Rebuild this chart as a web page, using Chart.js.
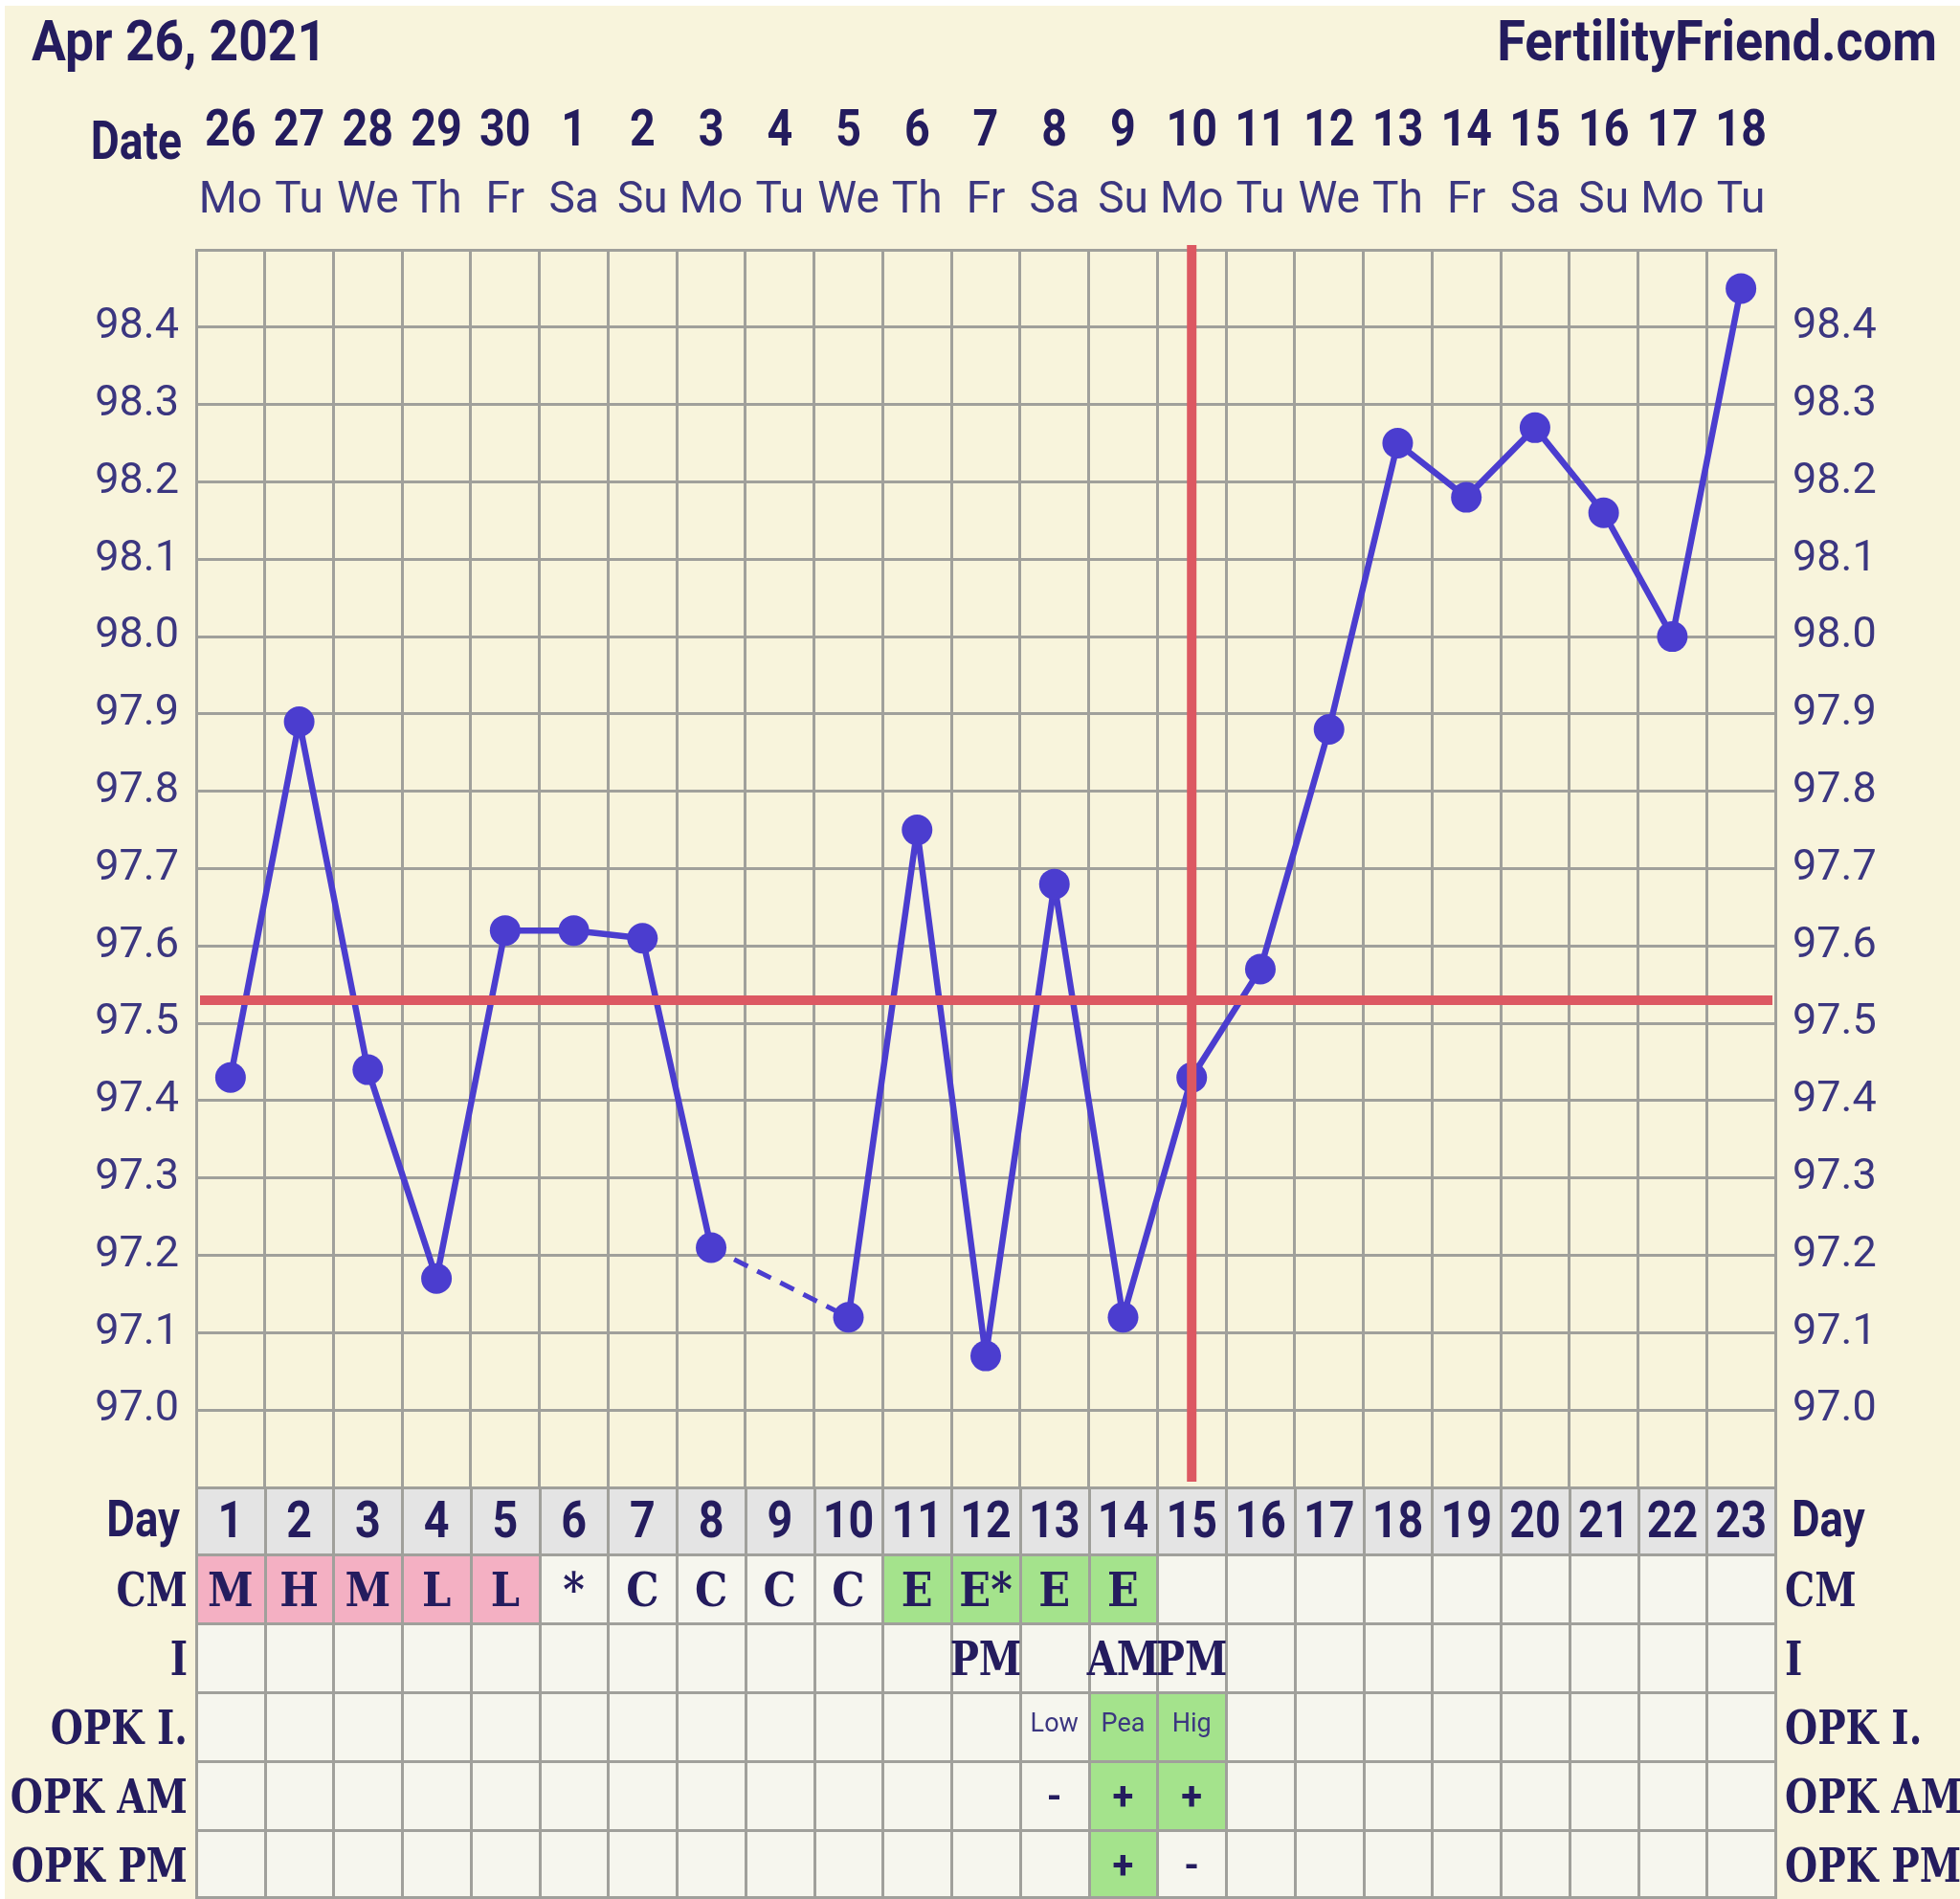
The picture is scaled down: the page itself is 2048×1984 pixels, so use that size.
<!DOCTYPE html>
<html>
<head>
<meta charset="utf-8">
<script src="https://cdn.jsdelivr.net/npm/chart.js@4.4.1/dist/chart.umd.min.js"></script>
<style>
html,body{margin:0;padding:0;background:#ffffff;overflow:hidden}
canvas{display:block}
</style>
</head>
<body>
<canvas id="chart" width="2048" height="1984" style="width:2048px;height:1984px"></canvas>
<script>
// ---------------- data ----------------
const titleText = 'Apr 26, 2021';
const siteText = 'FertilityFriend.com';
const cycleDays = ['1','2','3','4','5','6','7','8','9','10','11','12','13','14','15','16','17','18','19','20','21','22','23'];
const dateLabels = ['26','27','28','29','30','1','2','3','4','5','6','7','8','9','10','11','12','13','14','15','16','17','18'];
const weekdayLabels = ['Mo','Tu','We','Th','Fr','Sa','Su','Mo','Tu','We','Th','Fr','Sa','Su','Mo','Tu','We','Th','Fr','Sa','Su','Mo','Tu'];
const temperatures = [97.43, 97.89, 97.44, 97.17, 97.62, 97.62, 97.61, 97.21, null, 97.12, 97.75, 97.07, 97.68, 97.12, 97.43, 97.57, 97.88, 98.25, 98.18, 98.27, 98.16, 98.00, 98.45];
const coverline = 97.53;
const ovulationDay = '15';
const yMin = 96.9;
const yMax = 98.5;
const yStep = 0.1;
const rowLabels = ['Day', 'CM', 'I', 'OPK I.', 'OPK AM', 'OPK PM'];
const cmRow = ['M','H','M','L','L','*','C','C','C','C','E','E*','E','E','','','','','','','','',''];
const intercourseRow = ['','','','','','','','','','','','PM','','AM','PM','','','','','','','',''];
const opkIntensityRow = ['','','','','','','','','','','','','Low','Pea','Hig','','','','','','','',''];
const opkAmRow = ['','','','','','','','','','','','','-','+','+','','','','','','','',''];
const opkPmRow = ['','','','','','','','','','','','','','+','-','','','','','','','',''];

// ---------------- styles ----------------
const CREAM = '#f8f4dc';
const CELL = '#f6f6ee';
const DAYCELL = '#e4e4e4';
const PINK = '#f4b0c3';
const GREEN = '#a4e38c';
const GRID = '#a0a09b';
const BLUE = '#4b3dcf';
const RED = '#dc5862';
const DARK = '#241c5e';
const MID = '#3b3680';
const SERIF = '"DejaVu Serif", "Liberation Serif", serif';
const SANS = 'Roboto, "Noto Sans", sans-serif';

function txt(ctx, s, x, y, font, color, align, sx) {
  if (!s) return;
  ctx.save();
  ctx.font = font;
  ctx.fillStyle = color;
  ctx.textAlign = align;
  ctx.textBaseline = 'alphabetic';
  ctx.translate(x, y);
  ctx.scale(sx, 1);
  ctx.fillText(s, 0, 0);
  ctx.restore();
}

const backgroundPlugin = {
  id: 'bg',
  beforeDraw(chart) {
    const ctx = chart.ctx;
    ctx.save();
    ctx.fillStyle = '#ffffff';
    ctx.fillRect(0, 0, chart.width, chart.height);
    ctx.fillStyle = CREAM;
    ctx.fillRect(5, 6, chart.width - 5, chart.height - 6);
    ctx.restore();
  }
};

const markerLinesPlugin = {
  id: 'markers',
  afterDatasetsDraw(chart) {
    const ctx = chart.ctx, a = chart.chartArea;
    const x = chart.scales.x.getPixelForValue(cycleDays.indexOf(ovulationDay));
    const y = chart.scales.y.getPixelForValue(coverline);
    ctx.save();
    ctx.strokeStyle = RED;
    ctx.lineWidth = 10;
    ctx.beginPath();
    ctx.moveTo(x, a.top - 5);
    ctx.lineTo(x, a.bottom - 6);
    ctx.stroke();
    ctx.beginPath();
    ctx.moveTo(a.left + 4, y);
    ctx.lineTo(a.right - 3, y);
    ctx.stroke();
    ctx.restore();
  }
};

const tablePlugin = {
  id: 'table',
  afterDraw(chart) {
    const ctx = chart.ctx, a = chart.chartArea, xs = chart.scales.x;
    const n = cycleDays.length;
    const colW = (a.right - a.left) / n;
    const t0 = a.bottom;
    const rowsY = [t0, t0 + 70, t0 + 142, t0 + 214, t0 + 286, t0 + 358, t0 + 430];
    const cmColor = {M: PINK, H: PINK, L: PINK, E: GREEN, 'E*': GREEN};

    // header
    txt(ctx, titleText, 33, 63, 'bold 60px ' + SANS, DARK, 'left', 0.89);
    txt(ctx, siteText, 2024, 63, 'bold 60px ' + SANS, DARK, 'right', 0.9);
    txt(ctx, 'Date', 190, 166, 'bold 55px ' + SANS, DARK, 'right', 0.84);
    for (let i = 0; i < n; i++) {
      const cx = xs.getPixelForValue(i);
      txt(ctx, dateLabels[i], cx, 152, 'bold 53px ' + SANS, DARK, 'center', 0.88);
      txt(ctx, weekdayLabels[i], cx, 222, '46px ' + SANS, MID, 'center', 1.0);
    }

    // cells
    ctx.save();
    for (let i = 0; i < n; i++) {
      const x0 = a.left + i * colW;
      const fills = [
        DAYCELL,
        cmColor[cmRow[i]] || CELL,
        CELL,
        (opkIntensityRow[i] === 'Pea' || opkIntensityRow[i] === 'Hig') ? GREEN : CELL,
        opkAmRow[i] === '+' ? GREEN : CELL,
        opkPmRow[i] === '+' ? GREEN : CELL
      ];
      for (let r = 0; r < 6; r++) {
        ctx.fillStyle = fills[r];
        ctx.fillRect(x0, rowsY[r], colW + 0.5, rowsY[r + 1] - rowsY[r]);
      }
    }
    // grid of the table
    ctx.strokeStyle = GRID;
    ctx.lineWidth = 3;
    ctx.beginPath();
    for (let i = 0; i <= n; i++) {
      const x0 = Math.round(a.left + i * colW) + 0.5;
      ctx.moveTo(x0, t0);
      ctx.lineTo(x0, chart.height);
    }
    for (let r = 0; r < rowsY.length; r++) {
      const y0 = Math.min(Math.round(rowsY[r]) + 0.5, chart.height - 1.5);
      ctx.moveTo(a.left, y0);
      ctx.lineTo(a.right, y0);
    }
    ctx.stroke();
    ctx.restore();

    // cell text
    for (let i = 0; i < n; i++) {
      const cx = xs.getPixelForValue(i);
      txt(ctx, cycleDays[i], cx, rowsY[0] + 52, 'bold 53px ' + SANS, DARK, 'center', 0.88);
      txt(ctx, cmRow[i], cx, rowsY[1] + 54, 'bold 49px ' + SERIF, DARK, 'center', 0.88);
      txt(ctx, intercourseRow[i], cx, rowsY[2] + 54, 'bold 49px ' + SERIF, DARK, 'center', 0.82);
      txt(ctx, opkIntensityRow[i], cx, rowsY[3] + 41, '27px ' + SANS, MID, 'center', 1.0);
      txt(ctx, opkAmRow[i], cx, rowsY[4] + 50, 'bold 40px ' + SANS, DARK, 'center', 1.0);
      txt(ctx, opkPmRow[i], cx, rowsY[5] + 50, 'bold 40px ' + SANS, DARK, 'center', 1.0);
    }

    // row labels, both sides
    for (let r = 0; r < rowLabels.length; r++) {
      if (r === 0) {
        txt(ctx, rowLabels[r], 188, rowsY[0] + 51, 'bold 53px ' + SANS, DARK, 'right', 0.86);
        txt(ctx, rowLabels[r], a.right + 17, rowsY[0] + 51, 'bold 53px ' + SANS, DARK, 'left', 0.86);
      } else {
        txt(ctx, rowLabels[r], 196, rowsY[r] + 54, 'bold 49px ' + SERIF, DARK, 'right', 0.8);
        txt(ctx, rowLabels[r], a.right + 10, rowsY[r] + 54, 'bold 49px ' + SERIF, DARK, 'left', 0.8);
      }
    }
  }
};

const tickLabel = (v) => (v < yMin + yStep / 2 || v > yMax - yStep / 2) ? '' : Number(v).toFixed(1);
const gapStyle = (c, value) => (c.p0.skip || c.p1.skip) ? value : undefined;

new Chart(document.getElementById('chart'), {
  type: 'line',
  data: {
    labels: cycleDays,
    datasets: [{
      data: temperatures,
      borderColor: BLUE,
      backgroundColor: BLUE,
      pointBackgroundColor: BLUE,
      pointBorderColor: BLUE,
      borderWidth: 6.5,
      borderJoinStyle: 'round',
      borderCapStyle: 'round',
      pointRadius: 16,
      pointHoverRadius: 16,
      pointBorderWidth: 0,
      tension: 0,
      spanGaps: true,
      segment: {
        borderDash: (c) => gapStyle(c, [16, 11]),
        borderWidth: (c) => gapStyle(c, 5),
        borderCapStyle: (c) => gapStyle(c, 'butt')
      }
    }]
  },
  options: {
    responsive: false,
    devicePixelRatio: 1,
    animation: false,
    events: [],
    layout: { padding: { top: 261, bottom: 430, left: 0, right: 0 } },
    plugins: { legend: { display: false }, tooltip: { enabled: false }, title: { display: false } },
    scales: {
      x: {
        type: 'category',
        offset: true,
        ticks: { display: false },
        grid: { color: GRID, lineWidth: 3, offset: true, drawTicks: false },
        border: { display: true, color: GRID, width: 3 },
        afterFit: (s) => { s.height = 0; }
      },
      y: {
        type: 'linear',
        position: 'left',
        min: yMin,
        max: yMax,
        ticks: { stepSize: yStep, callback: tickLabel, color: MID, font: { family: 'Roboto', size: 45 }, padding: 18, labelOffset: 0 },
        grid: { color: GRID, lineWidth: 3, drawTicks: false },
        border: { display: true, color: GRID, width: 3 },
        afterFit: (s) => { s.width = 205; }
      },
      y2: {
        type: 'linear',
        position: 'right',
        min: yMin,
        max: yMax,
        ticks: { stepSize: yStep, callback: tickLabel, color: MID, font: { family: 'Roboto', size: 45 }, padding: 18, labelOffset: 0 },
        grid: { display: false, drawTicks: false },
        border: { display: true, color: GRID, width: 3 },
        afterFit: (s) => { s.width = 193; }
      }
    }
  },
  plugins: [backgroundPlugin, markerLinesPlugin, tablePlugin]
});
</script>
</body>
</html>
